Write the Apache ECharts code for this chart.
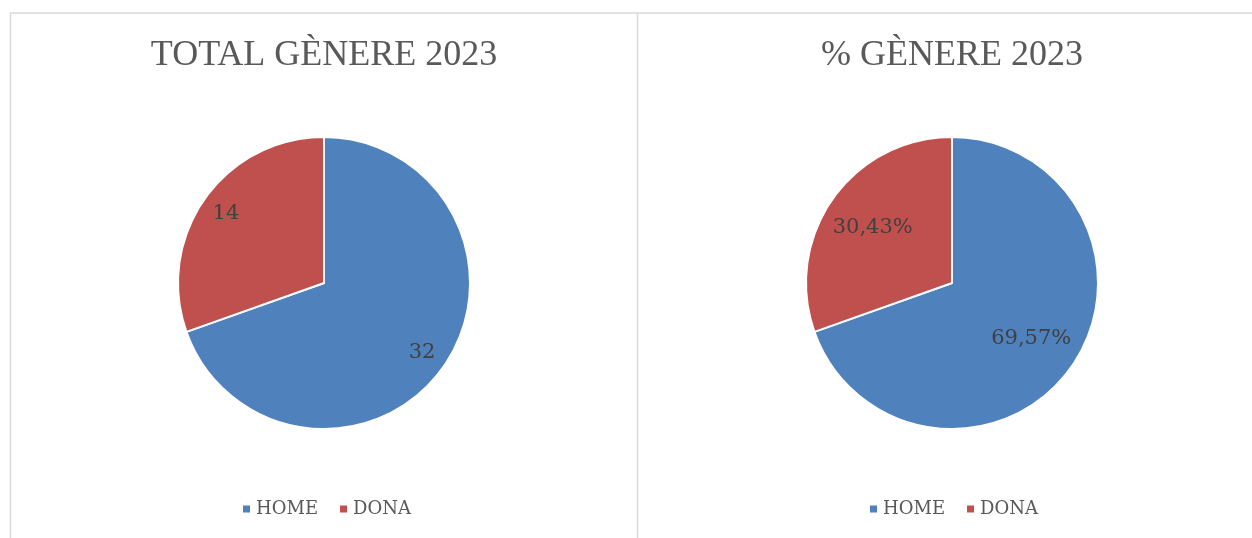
<!DOCTYPE html>
<html>
<head>
<meta charset="utf-8">
<script src="https://cdn.jsdelivr.net/npm/echarts@6/dist/echarts.min.js"></script>
<style>
  html, body { margin: 0; padding: 0; background: #fff; }
  #mainChart { width: 1252px; height: 538px; }
</style>
</head>
<body>
<div id="mainChart"></div>
<script>
// data
var categories = ['HOME', 'DONA'];
var totalValues = [32, 14];
var pctValues = [69.57, 30.43];
var colors = ['#4f81bd', '#c0504d'];

var chart = echarts.init(document.getElementById('mainChart'));

function pieData(vals) {
    return categories.map(function (c, i) {
        return { name: c, value: vals[i], itemStyle: { color: colors[i] } };
    });
}
function labelData(vals) {
    return categories.map(function (c, i) {
        return { name: c, value: vals[i] };
    });
}

var legendData = categories.map(function (c, i) {
    return { name: c, itemStyle: { color: colors[i] } };
});

var labelFont = {
    show: true, position: 'inside', color: '#404040',
    fontFamily: 'DejaVu Serif', fontSize: 21
};
var legendText = { fontFamily: 'DejaVu Serif', fontSize: 18, color: '#595959' };
var titleText = { fontFamily: 'Liberation Serif', fontSize: 36, fontWeight: 'normal', color: '#595959' };

var option = {
    animation: false,
    title: [
        { text: 'TOTAL GÈNERE 2023', left: 324, top: 38, textAlign: 'center', padding: 0, textStyle: titleText },
        { text: '% GÈNERE 2023', left: 952, top: 38, textAlign: 'center', padding: 0, textStyle: titleText }
    ],
    legend: [
        { data: legendData, left: 236, top: 495, icon: 'rect', itemWidth: 9, itemHeight: 9, itemGap: 20,
          selectedMode: false, textStyle: legendText },
        { data: legendData, left: 863, top: 495, icon: 'rect', itemWidth: 9, itemHeight: 9, itemGap: 20,
          selectedMode: false, textStyle: legendText }
    ],
    graphic: [
        { type: 'line', shape: { x1: 10, y1: 13, x2: 1252, y2: 13 }, style: { stroke: '#d9d9d9', lineWidth: 1.5 } },
        { type: 'line', shape: { x1: 10.5, y1: 13, x2: 10.5, y2: 538 }, style: { stroke: '#d9d9d9', lineWidth: 1.5 } },
        { type: 'line', shape: { x1: 637.5, y1: 13, x2: 637.5, y2: 538 }, style: { stroke: '#d9d9d9', lineWidth: 1.5 } }
    ],
    series: [
        {
            type: 'pie', center: [324, 283], radius: 146, startAngle: 90,
            data: pieData(totalValues), label: { show: false }, labelLine: { show: false },
            itemStyle: { borderColor: '#fff', borderWidth: 2 }, silent: true
        },
        {
            type: 'pie', center: [324, 283], radius: [88, 146], startAngle: 90,
            data: labelData(totalValues), silent: true, labelLine: { show: false },
            itemStyle: { color: 'rgba(0,0,0,0)' },
            label: Object.assign({}, labelFont, { formatter: '{c}' })
        },
        {
            type: 'pie', center: [952, 283], radius: 146, startAngle: 90,
            data: pieData(pctValues), label: { show: false }, labelLine: { show: false },
            itemStyle: { borderColor: '#fff', borderWidth: 2 }, silent: true
        },
        {
            type: 'pie', center: [952, 283], radius: [42, 146], startAngle: 90,
            data: labelData(pctValues), silent: true, labelLine: { show: false },
            itemStyle: { color: 'rgba(0,0,0,0)' },
            label: Object.assign({}, labelFont, {
                formatter: function (p) { return p.value.toFixed(2).replace('.', ',') + '%'; }
            })
        }
    ]
};

chart.setOption(option);
</script>
</body>
</html>
